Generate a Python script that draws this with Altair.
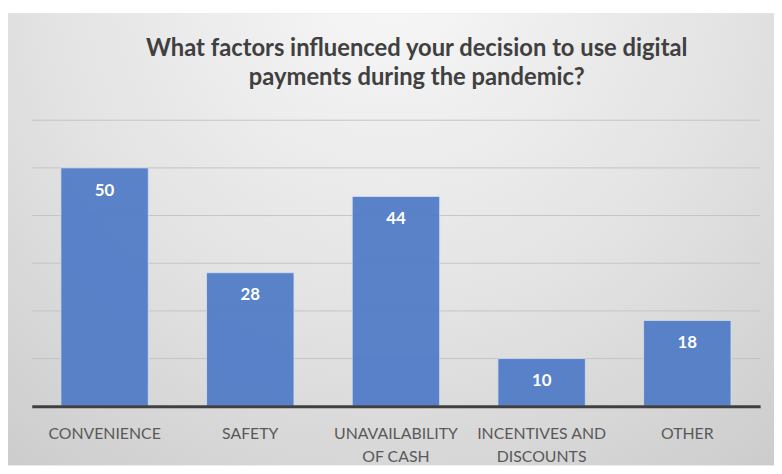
import altair as alt
import pandas as pd

categories = ["CONVENIENCE", "SAFETY", "UNAVAILABILITY OF CASH", "INCENTIVES AND DISCOUNTS", "OTHER"]
label_lines = [["CONVENIENCE"], ["SAFETY"], ["UNAVAILABILITY", "OF CASH"], ["INCENTIVES AND", "DISCOUNTS"], ["OTHER"]]
values = [50, 28, 44, 10, 18]
grid_values = [10, 20, 30, 40, 50, 60]
title_lines = ["What factors influenced your decision to use digital", "payments during the pandemic?"]

df = pd.DataFrame({"factor": categories, "count": values})
grid_df = pd.DataFrame({"g": grid_values})

# label expression for two-line axis labels
parts = []
for cat, lines in zip(categories, label_lines):
    arr = "[" + ",".join("'" + l + "'" for l in lines) + "]"
    parts.append(f"datum.value == '{cat}' ? {arr}")
label_expr = " : ".join(parts) + " : datum.value"

W, H = 736, 289

bg = alt.Chart(pd.DataFrame({"a": [0]})).mark_rect(
    fill=alt.RadialGradient(
        gradient="radial",
        stops=[
            alt.GradientStop(offset=0, color="#f8f8f8"),
            alt.GradientStop(offset=0.55, color="#e2e2e2"),
            alt.GradientStop(offset=1, color="#cacaca"),
        ],
        x1=0.5, y1=0.15, r1=0, x2=0.5, y2=0.15, r2=0.85,
    ),
    clip=False,
).encode(
    x=alt.value(-24), x2=alt.value(W + 14), y=alt.value(-108), y2=alt.value(H + 60)
)

y_scale = alt.Scale(domain=[0, 60])

grid = alt.Chart(grid_df).mark_rule(color="#c4c4c4", strokeWidth=1).encode(
    y=alt.Y("g:Q", scale=y_scale, axis=None)
)

x_enc = alt.X(
    "factor:N",
    sort=categories,
    scale=alt.Scale(paddingInner=0.4, paddingOuter=0.2),
    axis=alt.Axis(
        title=None, labelAngle=0, labelExpr=label_expr, labelFont="Lato",
        labelFontSize=16, labelColor="#595959", labelPadding=20, labelLineHeight=23,
        ticks=False, domainColor="#404040", domainWidth=3, grid=False, zindex=2,
    ),
)
y_enc = alt.Y("count:Q", scale=y_scale, axis=None)

bars = alt.Chart(df).mark_bar(
    color="#527dc8", opacity=0.95, stroke="#d6e0f0", strokeWidth=0.8
).encode(x=x_enc, y=y_enc)
text = alt.Chart(df).mark_text(
    color="white", font="Lato", fontSize=17, fontWeight="bold", baseline="middle", dy=23
).encode(x=alt.X("factor:N", sort=categories), y=alt.Y("count:Q", scale=y_scale, axis=None), text="count:Q")

chart = alt.layer(bg, grid, bars, text).properties(
    width=W, height=H,
    title=alt.TitleParams(
        text=title_lines, font="Lato", fontSize=24, fontWeight="bold", color="#404040",
        lineHeight=29, offset=-77, anchor="middle", dx=21,
    ),
    autosize=alt.AutoSizeParams(type="none"),
    padding={"left": 24, "top": 111, "right": 14, "bottom": 58},
).configure_view(stroke=None).configure(background="white")

chart.save("out.html", embed_options={"renderer": "svg", "actions": False})
